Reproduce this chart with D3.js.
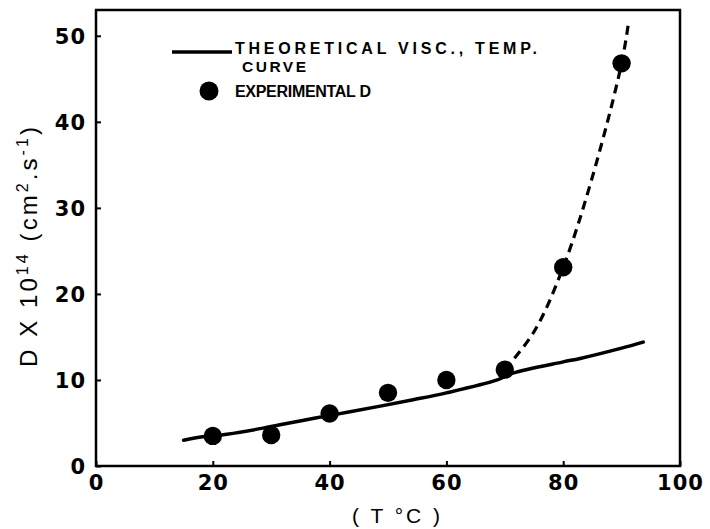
<!DOCTYPE html>
<html>
<head>
<meta charset="utf-8">
<script src="https://cdn.jsdelivr.net/npm/d3@7"></script>
<style>
  body { margin: 0; background: #fff; }
  #chart { width: 710px; height: 529px; }
  .tick text { font-family: "DejaVu Sans", sans-serif; font-weight: bold; font-size: 21px; fill: #000; letter-spacing: 1px; }
</style>
</head>
<body>
<div id="chart"></div>
<script>
// experimental diffusion coefficients
const expTemp = [20, 30, 40, 50, 60, 70, 80, 90];
const expD = [3.5, 3.6, 6.1, 8.5, 10.0, 11.2, 23.1, 46.8];

// theoretical viscosity / temperature curve (solid)
const theoTemp = [15, 18.3, 22.4, 28.6, 31.5, 37.8, 43.5, 54.3, 60, 68.7, 71.4, 80, 82.9, 90, 93.7];
const theoD = [3.0, 3.4, 3.7, 4.4, 4.8, 5.6, 6.3, 7.7, 8.5, 10.0, 10.8, 12.1, 12.5, 13.7, 14.4];

// dashed curve through the high temperature points
const dashTemp = [70, 75, 80, 85, 90, 91.2];
const dashD = [11.2, 15.6, 23.1, 33.6, 46.8, 51.6];

const xTicks = [0, 20, 40, 60, 80, 100];
const yTicks = [0, 10, 20, 30, 40, 50];

const width = 710;
const height = 529;
const margin = { top: 10, left: 96, right: 30, bottom: 63 };

const svg = d3.select("#chart")
  .append("svg")
  .attr("width", width)
  .attr("height", height);

const xScale = d3.scaleLinear()
  .domain([0, 100])
  .range([margin.left, width - margin.right]);

const yScale = d3.scaleLinear()
  .domain([0, 53])
  .range([height - margin.bottom, margin.top]);

// axes with short inward ticks
const xAxis = svg.append("g")
  .attr("transform", `translate(0,${height - margin.bottom})`)
  .call(d3.axisBottom(xScale).tickValues(xTicks).tickSize(-5).tickPadding(9));

const yAxis = svg.append("g")
  .attr("transform", `translate(${margin.left},0)`)
  .call(d3.axisLeft(yScale).tickValues(yTicks).tickSize(-5).tickPadding(10));

svg.selectAll(".domain").remove();
svg.selectAll(".tick line").attr("stroke", "#000").attr("stroke-width", 2);
yAxis.selectAll(".tick text").attr("dy", "0.36em");

// frame
svg.append("rect")
  .attr("x", xScale(0))
  .attr("y", yScale(53))
  .attr("width", xScale(100) - xScale(0))
  .attr("height", yScale(0) - yScale(53))
  .attr("fill", "none")
  .attr("stroke", "#000")
  .attr("stroke-width", 2.5);

const line = d3.line()
  .x(function(d) { return xScale(d[0]); })
  .y(function(d) { return yScale(d[1]); })
  .curve(d3.curveCatmullRom.alpha(0.5));

svg.append("path")
  .datum(d3.zip(theoTemp, theoD))
  .attr("d", line)
  .attr("fill", "none")
  .attr("stroke", "#000")
  .attr("stroke-width", 3.5)
  .attr("stroke-linecap", "round");

svg.append("path")
  .datum(d3.zip(dashTemp, dashD))
  .attr("d", line)
  .attr("fill", "none")
  .attr("stroke", "#000")
  .attr("stroke-width", 3.2)
  .attr("stroke-dasharray", "9,6");

svg.selectAll("circle.exp")
  .data(d3.zip(expTemp, expD))
  .enter()
  .append("circle")
  .attr("class", "exp")
  .attr("cx", function(d) { return xScale(d[0]); })
  .attr("cy", function(d) { return yScale(d[1]); })
  .attr("r", 9.2)
  .attr("fill", "#000");

// legend
const legendFont = "'Liberation Sans', Arial, sans-serif";

svg.append("line")
  .attr("x1", 172).attr("x2", 232)
  .attr("y1", 52).attr("y2", 52)
  .attr("stroke", "#000")
  .attr("stroke-width", 3.5);

svg.append("text")
  .attr("x", 235).attr("y", 54)
  .attr("font-family", legendFont)
  .attr("font-weight", "bold")
  .attr("font-size", 16)
  .attr("textLength", 302)
  .attr("lengthAdjust", "spacing")
  .text("THEORETICAL VISC., TEMP.");

svg.append("text")
  .attr("x", 242).attr("y", 72)
  .attr("font-family", legendFont)
  .attr("font-weight", "bold")
  .attr("font-size", 15.5)
  .attr("textLength", 64)
  .attr("lengthAdjust", "spacing")
  .text("CURVE");

svg.append("circle")
  .attr("cx", 209).attr("cy", 91)
  .attr("r", 9.5)
  .attr("fill", "#000");

svg.append("text")
  .attr("x", 235).attr("y", 97)
  .attr("font-family", legendFont)
  .attr("font-weight", "bold")
  .attr("font-size", 16)
  .attr("textLength", 136)
  .attr("lengthAdjust", "spacing")
  .text("EXPERIMENTAL D");

// axis titles
svg.append("text")
  .attr("x", 396).attr("y", 523)
  .attr("text-anchor", "middle")
  .attr("font-family", legendFont)
  .attr("font-size", 21)
  .attr("textLength", 88)
  .attr("lengthAdjust", "spacing")
  .text("( T °C )");

const yTitle = svg.append("text")
  .attr("transform", "translate(37,247) rotate(-90)")
  .attr("text-anchor", "middle")
  .attr("font-family", legendFont)
  .attr("font-size", 24)
  .attr("textLength", 240)
  .attr("lengthAdjust", "spacing");

yTitle.append("tspan").text("D X 10");
yTitle.append("tspan").attr("dy", -9).attr("font-size", 16).text("14");
yTitle.append("tspan").attr("dy", 9).text(" (cm");
yTitle.append("tspan").attr("dy", -9).attr("font-size", 16).text("2");
yTitle.append("tspan").attr("dy", 9).text(".s");
yTitle.append("tspan").attr("dy", -9).attr("font-size", 16).text("-1");
yTitle.append("tspan").attr("dy", 9).text(")");
</script>
</body>
</html>
